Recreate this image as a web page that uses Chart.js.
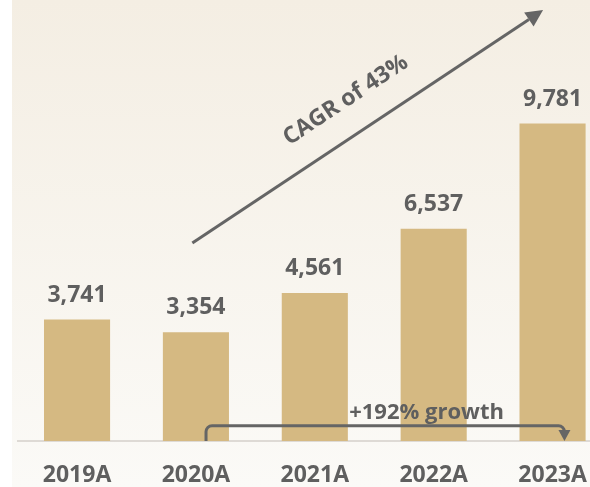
<!DOCTYPE html>
<html>
<head>
<meta charset="utf-8">
<script src="https://cdn.jsdelivr.net/npm/chart.js@4.4.1/dist/chart.umd.min.js"></script>
<style>
  html, body { margin: 0; padding: 0; background: #ffffff; overflow: hidden; }
  #wrap { width: 612px; height: 487px; }
</style>
</head>
<body>
<div id="wrap"><canvas id="c" width="612" height="487"></canvas></div>
<script>
// ---- data ----
const categories = ["2019A", "2020A", "2021A", "2022A", "2023A"];
const revenue = [3741, 3354, 4561, 6537, 9781];
const cagrLabel = "CAGR of 43%";
const growthLabel = "+192% growth";
// annotation anchors in data units (x = category index, y = value)
const cagrArrowStart = { x: 0.97, y: 6100 };
const cagrArrowEnd = { x: 3.92, y: 13280 };
const cagrTextAt = { x: 2.26, y: 10500 };
const bracketFrom = { x: 1.085, y: 0 };
const bracketTo = { x: 4.1, y: 0 };
const bracketLevel = 470;
const growthTextAt = { x: 2.94, y: 690 };

const GRAY = "#5f5f5f";
const LINE = "#656565";
const FONT = "'Open Sans', Lato, sans-serif";

const bgPlugin = {
  id: "bg",
  beforeDraw(chart) {
    const ctx = chart.ctx;
    const g = ctx.createLinearGradient(0, 0, 0, chart.height);
    g.addColorStop(0, "#f4eee3");
    g.addColorStop(1, "#fbfaf7");
    ctx.save();
    ctx.fillStyle = "#ffffff";
    ctx.fillRect(0, 0, chart.width, chart.height);
    ctx.fillStyle = g;
    ctx.fillRect(12, 0, chart.width - 12, chart.height);
    ctx.restore();
  }
};

const labelPlugin = {
  id: "vals",
  afterDatasetsDraw(chart) {
    const ctx = chart.ctx;
    const meta = chart.getDatasetMeta(0);
    ctx.save();
    ctx.fillStyle = GRAY;
    ctx.font = "bold 23px " + FONT;
    ctx.textAlign = "center";
    ctx.textBaseline = "alphabetic";
    meta.data.forEach((bar, i) => {
      ctx.fillText(revenue[i].toLocaleString("en-US"), bar.x, bar.y - 18);
    });

    const xs = chart.scales.x, ys = chart.scales.y;
    const px = p => xs.getPixelForValue(p.x);
    const py = p => ys.getPixelForValue(p.y);

    // CAGR arrow
    const x0 = px(cagrArrowStart), y0 = py(cagrArrowStart);
    const x1 = px(cagrArrowEnd), y1 = py(cagrArrowEnd);
    const ang = Math.atan2(y1 - y0, x1 - x0);
    const headLen = 17, headW = 8.5;
    const bx = x1 - headLen * Math.cos(ang), by = y1 - headLen * Math.sin(ang);
    ctx.strokeStyle = LINE;
    ctx.fillStyle = LINE;
    ctx.lineWidth = 3;
    ctx.lineCap = "butt";
    ctx.beginPath();
    ctx.moveTo(x0, y0);
    ctx.lineTo(bx, by);
    ctx.stroke();
    ctx.beginPath();
    ctx.moveTo(x1, y1);
    ctx.lineTo(bx + headW * Math.sin(ang), by - headW * Math.cos(ang));
    ctx.lineTo(bx - headW * Math.sin(ang), by + headW * Math.cos(ang));
    ctx.closePath();
    ctx.fill();

    // CAGR text
    ctx.save();
    ctx.translate(px(cagrTextAt), py(cagrTextAt));
    ctx.rotate(ang);
    ctx.fillStyle = GRAY;
    ctx.font = "bold 23px " + FONT;
    ctx.textAlign = "center";
    ctx.textBaseline = "middle";
    ctx.fillText(cagrLabel, 0, 0);
    ctx.restore();

    // growth bracket
    const lx = px(bracketFrom), rx = px(bracketTo);
    const baseY = py(bracketFrom), topY = py({ y: bracketLevel });
    const r = 6, tipLen = 10, tipW = 6;
    ctx.lineWidth = 3;
    ctx.strokeStyle = LINE;
    ctx.beginPath();
    ctx.moveTo(lx, baseY);
    ctx.lineTo(lx, topY + r);
    ctx.arcTo(lx, topY, lx + r, topY, r);
    ctx.lineTo(rx - r, topY);
    ctx.arcTo(rx, topY, rx, topY + r, r);
    ctx.lineTo(rx, baseY - tipLen);
    ctx.stroke();
    ctx.beginPath();
    ctx.moveTo(rx, baseY);
    ctx.lineTo(rx - tipW, baseY - tipLen - 1);
    ctx.lineTo(rx + tipW, baseY - tipLen - 1);
    ctx.closePath();
    ctx.fill();

    ctx.fillStyle = GRAY;
    ctx.font = "bold 22px " + FONT;
    ctx.textAlign = "center";
    ctx.textBaseline = "alphabetic";
    ctx.fillText(growthLabel, px(growthTextAt), py(growthTextAt));
    ctx.restore();
  }
};

function draw() {
  new Chart(document.getElementById("c"), {
    type: "bar",
    data: {
      labels: categories,
      datasets: [{
        data: revenue,
        backgroundColor: "#d5b982",
        borderWidth: 0,
        barPercentage: 0.556,
        categoryPercentage: 1.0
      }]
    },
    options: {
      responsive: false,
      animation: false,
      events: [],
      layout: { padding: { left: 17.6, right: 0, top: 0, bottom: 0 } },
      plugins: { legend: { display: false }, tooltip: { enabled: false } },
      scales: {
        x: {
          afterFit(scale) { scale.height = 46; },
          grid: { display: false, drawTicks: false },
          border: { display: true, color: "#dedad5", width: 2 },
          ticks: {
            color: GRAY,
            font: { family: FONT, size: 23, weight: "bold" },
            padding: 21,
            maxRotation: 0,
            autoSkip: false
          }
        },
        y: { display: false, min: 0, max: 13590 }
      }
    },
    plugins: [bgPlugin, labelPlugin]
  });
}

if (document.fonts && document.fonts.load) {
  document.fonts.load("bold 23px 'Open Sans'").then(draw, draw);
} else {
  draw();
}
</script>
</body>
</html>
